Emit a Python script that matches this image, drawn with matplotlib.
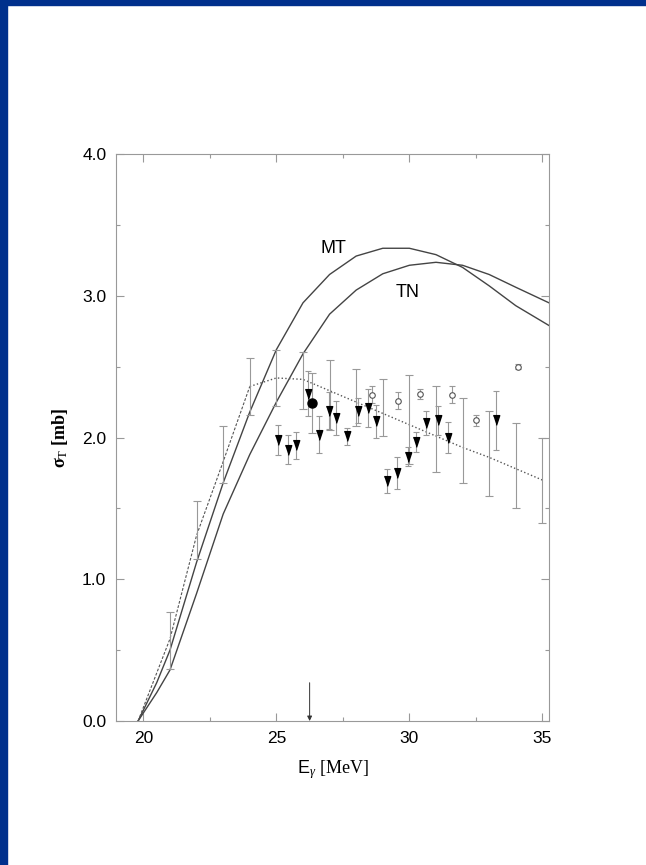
import numpy as np
import matplotlib
matplotlib.use('Agg')
import matplotlib.pyplot as plt
from matplotlib.patches import Rectangle
from matplotlib.ticker import MultipleLocator, FormatStrFormatter

plt.rcParams['mathtext.fontset'] = 'custom'
plt.rcParams['mathtext.rm'] = 'Liberation Serif'
plt.rcParams['mathtext.it'] = 'Liberation Serif:italic'
plt.rcParams['mathtext.bf'] = 'Liberation Serif:bold'
plt.rcParams['mathtext.sf'] = 'Liberation Sans'

# model curves
e_curve = [19.8, 20.5, 21, 22, 23, 24, 25, 26, 27, 28, 29, 30, 31, 32, 33, 34, 35.25]
mt = [0, 0.27, 0.5, 1.12, 1.68, 2.18, 2.62, 2.95, 3.15, 3.28, 3.335, 3.335, 3.29, 3.20, 3.07, 2.93, 2.79]
tn = [0, 0.2, 0.36, 0.9, 1.46, 1.88, 2.25, 2.59, 2.87, 3.04, 3.155, 3.215, 3.236, 3.215, 3.15, 3.06, 2.95]

# dotted fit line (dashed on the steep rise)
e_rise = [19.8, 21, 22, 23, 24]
s_rise = [0, 0.58, 1.31, 1.83, 2.36]
e_fit = [24, 25, 26, 27, 28, 29, 30, 31, 32, 33, 34, 35]
s_fit = [2.36, 2.42, 2.41, 2.33, 2.25, 2.17, 2.09, 2.01, 1.93, 1.86, 1.78, 1.70]

# data with error bars only
e_bar = [21, 22, 23, 24, 25, 26, 27, 28, 29, 30, 31, 32, 33, 34, 35]
s_bar = [0.57, 1.345, 1.88, 2.36, 2.42, 2.40, 2.30, 2.28, 2.21, 2.125, 2.06, 1.98, 1.89, 1.80, 1.70]
d_bar = [0.2, 0.205, 0.2, 0.2, 0.2, 0.2, 0.245, 0.2, 0.2, 0.315, 0.3, 0.3, 0.3, 0.3, 0.3]

# filled triangles
e_tri = [25.05, 25.45, 25.75, 26.2, 26.6, 26.96, 27.24, 27.65, 28.05, 28.46,
         28.75, 29.15, 29.55, 29.94, 30.25, 30.64, 31.09, 31.44, 33.26]
s_tri = [1.98, 1.915, 1.945, 2.31, 2.02, 2.19, 2.135, 2.01, 2.19, 2.21,
         2.115, 1.695, 1.75, 1.865, 1.97, 2.10, 2.12, 2.00, 2.12]
d_tri = [0.105, 0.10, 0.095, 0.16, 0.13, 0.13, 0.12, 0.06, 0.09, 0.135,
         0.115, 0.085, 0.11, 0.065, 0.07, 0.085, 0.105, 0.11, 0.21]

# open circles
e_oc = [28.59, 29.59, 30.4, 31.6, 32.5, 34.1]
s_oc = [2.30, 2.26, 2.305, 2.30, 2.12, 2.50]
d_oc = [0.06, 0.06, 0.035, 0.06, 0.04, 0.02]

# filled circle
e_fc = [26.35]
s_fc = [2.245]
d_fc = [0.21]

arrow_e = 26.25

fig = plt.figure(figsize=(6.46, 8.65), dpi=100)
fig.patches.append(Rectangle((0, 1 - 5/865), 1, 5/865, transform=fig.transFigure,
                             color='#00308c', zorder=10))
fig.patches.append(Rectangle((0, 0), 7/646, 1, transform=fig.transFigure,
                             color='#00308c', zorder=10))

ax = fig.add_axes([116/646, 1 - 721/865, (549 - 116)/646, (721 - 154)/865])

ax.plot(e_curve, mt, color='#444444', lw=1.0)
ax.plot(e_curve, tn, color='#444444', lw=1.0)

ax.plot(e_rise, s_rise, color='#555555', lw=0.8, dashes=(2.5, 1.5))
ax.plot(e_fit, s_fit, color='#555555', lw=1.0, ls=':')

ax.errorbar(e_bar, s_bar, yerr=d_bar, fmt='none', ecolor='#999999', elinewidth=0.8,
            capsize=3, capthick=0.8)
ax.errorbar(e_tri, s_tri, yerr=d_tri, fmt='none', ecolor='#999999', elinewidth=0.8,
            capsize=2.5, capthick=0.8)
ax.errorbar(e_oc, s_oc, yerr=d_oc, fmt='none', ecolor='#999999', elinewidth=0.8,
            capsize=2.5, capthick=0.8)
ax.errorbar(e_fc, s_fc, yerr=d_fc, fmt='none', ecolor='#999999', elinewidth=0.8,
            capsize=3, capthick=0.8)

tri = [(-0.66, 1), (0.66, 1), (0, -1)]
ax.plot(e_tri, s_tri, ls='none', marker=tri, ms=7, color='black', zorder=5)
ax.plot(e_oc, s_oc, ls='none', marker='o', ms=4, mfc='white', mec='#555555',
        mew=0.8, zorder=5)
ax.plot(e_fc, s_fc, ls='none', marker='o', ms=6.5, color='black', zorder=5)

ax.annotate('', xy=(arrow_e, 0), xytext=(arrow_e, 0.27),
            arrowprops=dict(arrowstyle='-|>', color='#333333', lw=0.7,
                            mutation_scale=7, shrinkA=0, shrinkB=0))

lab_font = ['Liberation Sans Narrow', 'Liberation Sans']
ax.text(27.14, 3.335, 'MT', fontsize=13, family=lab_font, ha='center', va='center')
ax.text(29.93, 3.02, 'TN', fontsize=13, family=lab_font, ha='center', va='center')

ax.set_xlim(18.97, 35.25)
ax.set_ylim(0, 4)
ax.xaxis.set_major_locator(MultipleLocator(5))
ax.xaxis.set_minor_locator(MultipleLocator(2.5))
ax.yaxis.set_major_locator(MultipleLocator(1))
ax.yaxis.set_minor_locator(MultipleLocator(0.5))
ax.yaxis.set_major_formatter(FormatStrFormatter('%.1f'))
ax.tick_params(which='both', direction='in', top=True, right=True, color='#999999')
ax.tick_params(which='major', length=6, width=0.8, labelsize=12.5, pad=7)
ax.tick_params(which='minor', length=3, width=0.8)
for lbl in ax.get_xticklabels() + ax.get_yticklabels():
    lbl.set_family(lab_font)
for sp in ax.spines.values():
    sp.set_color('#999999')
    sp.set_linewidth(0.8)

ax.set_xlabel(r'$\mathsf{E}_{\gamma}$ [MeV]', family='Liberation Serif', fontsize=13,
              labelpad=9)
ax.set_ylabel(r'$\mathbf{\sigma}_{\mathrm{T}}$ [mb]', family='Liberation Serif',
              fontsize=13, fontweight='bold', labelpad=9)

fig.savefig('out.png', dpi=100)
